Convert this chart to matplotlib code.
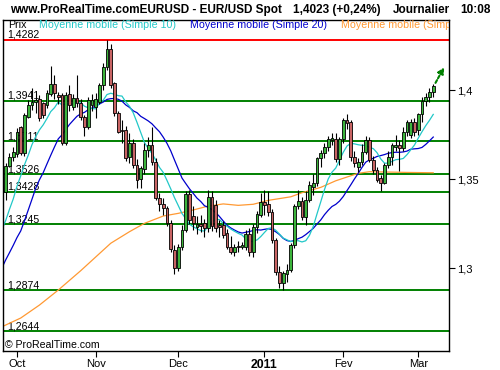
import matplotlib
matplotlib.use('Agg')
import matplotlib.pyplot as plt
import numpy as np
import pandas as pd

plt.rcParams['font.family'] = ['Liberation Sans', 'DejaVu Sans']

# daily EUR/USD candles, 28 Sep 2010 -> 7 Mar 2011 (one entry per trading day)
opens = [1.3429, 1.3575, 1.3625, 1.3640, 1.3790, 1.3645, 1.3850, 1.3914, 1.3930, 1.3950,
         1.3925, 1.3916, 1.3975, 1.4035, 1.3972, 1.3972, 1.3700, 1.3975, 1.3906, 1.3953,
         1.3925, 1.3847, 1.3794, 1.3916, 1.3906, 1.3934, 1.4028, 1.4131, 1.4229, 1.4038,
         1.3869, 1.3775, 1.3775, 1.3625, 1.3700, 1.3579, 1.3498, 1.3554, 1.3663, 1.3690,
         1.3597, 1.3392, 1.3360, 1.3335, 1.3251, 1.3101, 1.2998, 1.3120, 1.3213, 1.3414,
         1.3292, 1.3229, 1.3248, 1.3251, 1.3223, 1.3400, 1.3354, 1.3242, 1.3242, 1.3195,
         1.3120, 1.3092, 1.3122, 1.3116, 1.3120, 1.3191, 1.3088, 1.3229, 1.3298, 1.3373,
         1.3360, 1.3316, 1.3157, 1.2979, 1.2913, 1.2964, 1.2989, 1.3129, 1.3348, 1.3378,
         1.3285, 1.3382, 1.3453, 1.3476, 1.3616, 1.3644, 1.3682, 1.3718, 1.3723, 1.3610,
         1.3723, 1.3831, 1.3822, 1.3625, 1.3565, 1.3597, 1.3650, 1.3720, 1.3607, 1.3551,
         1.3504, 1.3480, 1.3579, 1.3622, 1.3678, 1.3690, 1.3672, 1.3766, 1.3747, 1.3822,
         1.3775, 1.3865, 1.3940, 1.3963, 1.3991]
highs = [1.3590, 1.3645, 1.3680, 1.3785, 1.3800, 1.3870, 1.3944, 1.4010, 1.3985, 1.3970,
         1.3935, 1.4000, 1.4135, 1.4084, 1.3990, 1.3985, 1.3990, 1.4028, 1.3980, 1.4084,
         1.3950, 1.3860, 1.3960, 1.3975, 1.3985, 1.4040, 1.4150, 1.4282, 1.4260, 1.4045,
         1.3880, 1.3830, 1.3800, 1.3760, 1.3725, 1.3610, 1.3575, 1.3700, 1.3735, 1.3794,
         1.3620, 1.3420, 1.3395, 1.3350, 1.3270, 1.3130, 1.3135, 1.3240, 1.3430, 1.3440,
         1.3350, 1.3290, 1.3300, 1.3275, 1.3440, 1.3435, 1.3380, 1.3270, 1.3265, 1.3220,
         1.3180, 1.3135, 1.3150, 1.3145, 1.3215, 1.3225, 1.3245, 1.3320, 1.3420, 1.3440,
         1.3430, 1.3330, 1.3170, 1.3010, 1.2985, 1.3020, 1.3140, 1.3360, 1.3440, 1.3400,
         1.3430, 1.3490, 1.3530, 1.3625, 1.3665, 1.3700, 1.3740, 1.3760, 1.3760, 1.3735,
         1.3840, 1.3865, 1.3830, 1.3660, 1.3620, 1.3695, 1.3740, 1.3735, 1.3630, 1.3565,
         1.3520, 1.3590, 1.3660, 1.3700, 1.3745, 1.3720, 1.3790, 1.3830, 1.3835, 1.3840,
         1.3870, 1.3960, 1.3985, 1.4010, 1.4035]
lows = [1.3382, 1.3565, 1.3600, 1.3625, 1.3635, 1.3630, 1.3840, 1.3890, 1.3870, 1.3825,
        1.3845, 1.3900, 1.3965, 1.3950, 1.3920, 1.3690, 1.3690, 1.3880, 1.3885, 1.3905,
        1.3830, 1.3740, 1.3780, 1.3880, 1.3845, 1.3920, 1.4000, 1.4110, 1.4010, 1.3855,
        1.3758, 1.3700, 1.3600, 1.3590, 1.3560, 1.3448, 1.3450, 1.3530, 1.3625, 1.3580,
        1.3380, 1.3320, 1.3300, 1.3235, 1.3090, 1.2968, 1.2985, 1.3100, 1.3200, 1.3250,
        1.3213, 1.3190, 1.3205, 1.3175, 1.3205, 1.3210, 1.3200, 1.3175, 1.3170, 1.3105,
        1.3080, 1.3070, 1.3090, 1.3105, 1.3100, 1.3070, 1.3060, 1.3195, 1.3285, 1.3300,
        1.3290, 1.3140, 1.2960, 1.2890, 1.2876, 1.2920, 1.2975, 1.3110, 1.3330, 1.3270,
        1.3240, 1.3370, 1.3410, 1.3460, 1.3570, 1.3620, 1.3660, 1.3690, 1.3595, 1.3580,
        1.3700, 1.3780, 1.3600, 1.3570, 1.3540, 1.3580, 1.3640, 1.3595, 1.3530, 1.3485,
        1.3430, 1.3470, 1.3560, 1.3580, 1.3660, 1.3544, 1.3660, 1.3740, 1.3730, 1.3740,
        1.3750, 1.3820, 1.3910, 1.3930, 1.3960]
closes = [1.3575, 1.3625, 1.3650, 1.3766, 1.3645, 1.3860, 1.3916, 1.3934, 1.3945, 1.3845,
          1.3860, 1.3981, 1.4035, 1.3985, 1.3963, 1.3700, 1.3972, 1.3913, 1.3955, 1.3925,
          1.3847, 1.3794, 1.3945, 1.3944, 1.3947, 1.4028, 1.4131, 1.4229, 1.4028, 1.3869,
          1.3766, 1.3772, 1.3616, 1.3700, 1.3578, 1.3494, 1.3560, 1.3663, 1.3690, 1.3597,
          1.3392, 1.3360, 1.3335, 1.3251, 1.3105, 1.2998, 1.3120, 1.3213, 1.3414, 1.3270,
          1.3251, 1.3245, 1.3235, 1.3223, 1.3400, 1.3235, 1.3223, 1.3229, 1.3185, 1.3120,
          1.3092, 1.3120, 1.3120, 1.3129, 1.3191, 1.3088, 1.3229, 1.3303, 1.3373, 1.3354,
          1.3316, 1.3157, 1.2979, 1.2913, 1.2970, 1.2989, 1.3129, 1.3348, 1.3378, 1.3285,
          1.3382, 1.3466, 1.3476, 1.3616, 1.3648, 1.3682, 1.3723, 1.3728, 1.3610, 1.3723,
          1.3831, 1.3817, 1.3625, 1.3588, 1.3597, 1.3650, 1.3720, 1.3607, 1.3551, 1.3494,
          1.3480, 1.3579, 1.3622, 1.3691, 1.3691, 1.3672, 1.3766, 1.3822, 1.3822, 1.3766,
          1.3865, 1.3940, 1.3963, 1.3991, 1.4022]

# closes before the window (31 Aug - 27 Sep), only used to start the averages
closes_before = [1.2680, 1.2820, 1.2830, 1.2890, 1.2900, 1.2720, 1.2710, 1.2715, 1.2710, 1.2890,
                 1.3060, 1.3000, 1.3070, 1.3050, 1.3060, 1.3240, 1.3380, 1.3340, 1.3490, 1.3470]

# long moving average (orange)
slow_ma_day = [-1, 4, 9, 14, 20, 28, 33, 37, 42, 46, 50, 54, 58, 62, 66, 70, 76, 79, 84, 88, 94, 97, 107, 114]
slow_ma = [1.2670, 1.2719, 1.2792, 1.2876, 1.2985, 1.3139, 1.3204, 1.3251, 1.3292, 1.3307, 1.3326, 1.3348,
           1.3360, 1.3352, 1.3358, 1.3380, 1.3400, 1.3423, 1.3453, 1.3490, 1.3532, 1.3541, 1.3537, 1.3535]

levels = [1.4282, 1.3941, 1.3711, 1.3526, 1.3428, 1.3245, 1.2874, 1.2644]
month_day = [3, 24, 46, 69, 90, 110]
month_labels = ['Oct', 'Nov', 'Dec', '2011', 'Fev', 'Mar']

W, H = 500, 370


def px(x, y):
    return x / W, 1 - y / H


fig = plt.figure(figsize=(W / 100, H / 100), dpi=100)
ax = fig.add_axes([3 / W, 1 - 351 / H, 446 / W, 331 / H])

o = np.array(opens)
hi = np.array(highs)
lo = np.array(lows)
c = np.array(closes)
days = np.arange(len(c))
up = c >= o

# support / resistance lines
for k, lv in enumerate(levels):
    col = '#ff0000' if k == 0 else '#008000'
    ax.axhline(lv, color=col, lw=1.4, zorder=1)
    ax.annotate(f'{lv:.4f}'.replace('.', ','), xy=(0, lv), xycoords=('axes fraction', 'data'),
                xytext=(2.9, 1.6), textcoords='offset points', va='baseline', ha='left',
                fontsize=7.6, color='black', zorder=2)

# moving averages
all_c = pd.Series(np.r_[closes_before, c])
all_days = np.arange(-len(closes_before), len(c))
ma10 = all_c.rolling(10).mean().values
ma20 = all_c.rolling(20).mean().values
keep = all_days >= -1
ax.plot(slow_ma_day, slow_ma, color='#ff9933', lw=0.9, zorder=2)
ax.plot(all_days[keep], ma20[keep], color='#0000cc', lw=0.9, zorder=2)
ax.plot(all_days[keep], ma10[keep], color='#22c8c8', lw=0.9, zorder=2)

# candles
ax.vlines(days, lo, hi, color='black', lw=0.8, zorder=3)
ax.bar(days, np.abs(c - o), bottom=np.minimum(o, c), width=0.7,
       color=np.where(up, '#3cb43c', '#c86464'), edgecolor='black', lw=0.6, zorder=4)

# trend arrow
ax.annotate('', xy=(116.9, 1.4128), xytext=(114.6, 1.4040),
            arrowprops=dict(arrowstyle='-|>', color='#008000', lw=1.5, ls=(0, (1.5, 1)),
                            mutation_scale=9, shrinkA=0, shrinkB=0), zorder=5)

ax.set_xlim(-0.73, 118.2)
ax.set_ylim(1.25337, 1.43933)

ax.yaxis.tick_right()
ax.set_yticks([1.3, 1.35, 1.4])
ax.set_yticklabels(['1,3', '1,35', '1,4'])
ax.tick_params(axis='y', direction='out', length=4, width=0.8, pad=1.5, labelsize=8)
ax.set_xticks(month_day)
ax.set_xticklabels(month_labels)
ax.tick_params(axis='x', direction='out', length=4, width=0.8, pad=2, labelsize=8)
lab = ax.get_xticklabels()[3]
lab.set_fontweight('bold')
lab.set_fontsize(8.8)
for sp in ax.spines.values():
    sp.set_linewidth(1.0)

# header
fig.text(*px(10, 10), 'www.ProRealTime.comEURUSD - EUR/USD Spot', fontsize=8.5,
         fontweight='bold', va='center', ha='left')
fig.text(*px(293, 10), '1,4023 (+0,24%)', fontsize=8.5, fontweight='bold', va='center', ha='left')
fig.text(*px(393, 10), 'Journalier', fontsize=8.5, fontweight='bold', va='center', ha='left')
fig.text(*px(460, 10), '10:08', fontsize=8.5, fontweight='bold', va='center', ha='left')

# legend row inside the frame
legend_items = [(8, 'Prix', 'black'),
                (39, 'Moyenne mobile (Simple 10)', '#22c8c8'),
                (190, 'Moyenne mobile (Simple 20)', '#0000cc'),
                (341, 'Moyenne mobile (Simple 100)', '#ff9933')]
for x, txt, col in legend_items:
    ax.text(*px(x, 25.5), txt, transform=fig.transFigure, fontsize=7.7, color=col,
            va='center', ha='left', clip_on=True, zorder=6)

ax.text(*px(5, 345.5), '\u00a9 ProRealTime.com', transform=fig.transFigure, fontsize=7.6,
        va='center', ha='left', zorder=6)

fig.savefig('out.png', dpi=100)
